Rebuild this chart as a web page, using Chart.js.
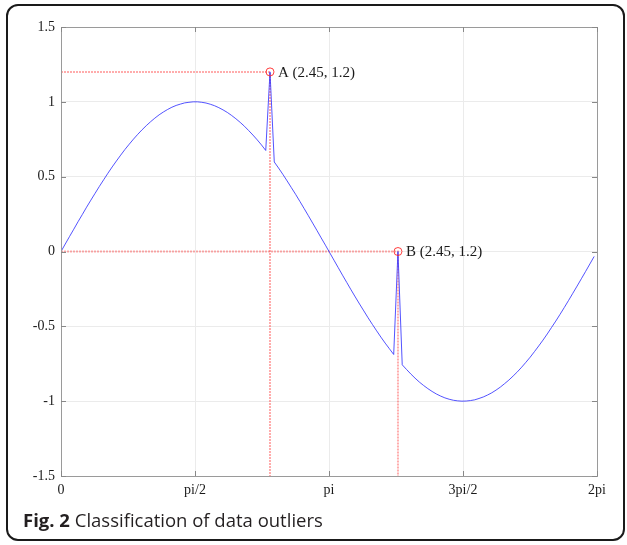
<!DOCTYPE html>
<html>
<head>
<meta charset="utf-8">
<script src="https://cdn.jsdelivr.net/npm/chart.js@4/dist/chart.umd.min.js"></script>
<style>
html,body{margin:0;padding:0;background:#fff;}
#wrap{position:relative;width:627px;height:545px;overflow:hidden;}
#frame{position:absolute;left:6px;top:4px;width:619px;height:537px;border:2px solid #1a1a1a;border-radius:12px;box-sizing:border-box;}
#c{position:absolute;left:0;top:0;}
#cap{position:absolute;left:23px;top:511px;font-family:'Open Sans',sans-serif;font-size:18.5px;line-height:18.5px;color:#231f20;white-space:nowrap;}
#cap b{font-weight:700;}
</style>
</head>
<body>
<div id="wrap">
<div id="frame"></div>
<canvas id="c" width="627" height="545"></canvas>
<div id="cap"><b>Fig. 2</b> Classification of data outliers</div>
</div>
<script>
// ---- data ----
const xs = [0,0.05,0.1,0.15,0.2,0.25,0.3,0.35,0.4,0.45,0.5,0.55,0.6,0.65,0.7,0.75,0.8,0.85,0.9,0.95,
1,1.05,1.1,1.15,1.2,1.25,1.3,1.35,1.4,1.45,1.5,1.55,1.6,1.65,1.7,1.75,1.8,1.85,1.9,1.95,
2,2.05,2.1,2.15,2.2,2.25,2.3,2.35,2.4,2.45,2.5,2.55,2.6,2.65,2.7,2.75,2.8,2.85,2.9,2.95,
3,3.05,3.1,3.15,3.2,3.25,3.3,3.35,3.4,3.45,3.5,3.55,3.6,3.65,3.7,3.75,3.8,3.85,3.9,3.95,
4,4.05,4.1,4.15,4.2,4.25,4.3,4.35,4.4,4.45,4.5,4.55,4.6,4.65,4.7,4.75,4.8,4.85,4.9,4.95,
5,5.05,5.1,5.15,5.2,5.25,5.3,5.35,5.4,5.45,5.5,5.55,5.6,5.65,5.7,5.75,5.8,5.85,5.9,5.95,
6,6.05,6.1,6.15,6.2,6.25];
const ys = [0,0.05,0.1,0.149,0.199,0.247,0.296,0.343,0.389,0.435,0.479,0.523,0.565,0.605,0.644,0.682,0.717,0.751,0.783,0.813,
0.841,0.867,0.891,0.913,0.932,0.949,0.964,0.976,0.985,0.993,0.997,1,1,0.997,0.992,0.984,0.974,0.961,0.946,0.929,
0.909,0.887,0.863,0.837,0.808,0.778,0.746,0.712,0.675,1.2,0.598,0.558,0.516,0.472,0.427,0.382,0.335,0.287,0.239,0.19,
0.141,0.091,0.042,-0.008,-0.058,-0.108,-0.158,-0.207,-0.256,-0.304,-0.351,-0.397,-0.443,-0.487,-0.53,-0.572,-0.612,-0.65,-0.688,0,
-0.757,-0.788,-0.818,-0.846,-0.872,-0.895,-0.916,-0.935,-0.952,-0.966,-0.978,-0.987,-0.994,-0.998,-1,-0.999,-0.996,-0.991,-0.982,-0.972,
-0.959,-0.944,-0.926,-0.906,-0.883,-0.859,-0.832,-0.804,-0.773,-0.74,-0.706,-0.669,-0.631,-0.592,-0.551,-0.508,-0.465,-0.42,-0.374,-0.327,
-0.279,-0.231,-0.182,-0.133,-0.083,-0.033];
const outlierX = [2.45, 3.95];
const outlierY = [1.2, 0];
const outlierLabels = ['A (2.45, 1.2)', 'B (2.45, 1.2)'];
const xTickValues = [0, Math.PI/2, Math.PI, 3*Math.PI/2, 2*Math.PI];
const xTickLabels = ['0', 'pi/2', 'pi', '3pi/2', '2pi'];
const yTickValues = [-1.5, -1, -0.5, 0, 0.5, 1, 1.5];
const yTickLabels = ['-1.5', '-1', '-0.5', '0', '0.5', '1', '1.5'];

// ---- datasets ----
const curve = xs.map((x, i) => ({x: x, y: ys[i]}));
const GUIDE = 'rgba(255,70,70,0.45)';
const guideSets = outlierX.map((ox, i) => ({
  data: [{x: xTickValues[0], y: outlierY[i]}, {x: ox, y: outlierY[i]}, {x: ox, y: yTickValues[0]}],
  showLine: true, borderColor: GUIDE, backgroundColor: GUIDE, borderWidth: 2, borderDash: [2, 1],
  pointRadius: 0, order: 2
}));
const markerSet = {
  data: outlierX.map((ox, i) => ({x: ox, y: outlierY[i]})),
  showLine: false, pointStyle: 'circle', pointRadius: 4, pointBorderWidth: 1,
  borderColor: 'rgba(255,30,30,0.85)', backgroundColor: 'rgba(0,0,0,0)',
  pointBorderColor: 'rgba(255,30,30,0.85)', pointBackgroundColor: 'rgba(0,0,0,0)', order: 0
};
const curveSet = {
  data: curve, showLine: true, borderColor: 'rgba(40,40,255,0.8)', backgroundColor: 'rgba(40,40,255,0.8)', borderWidth: 1,
  pointRadius: 0, tension: 0, order: 1
};

const FONT = 'Liberation Serif';
const boxPlugin = {
  id: 'box',
  afterDatasetsDraw(chart) {
    const ctx = chart.ctx, a = chart.chartArea;
    const sx = chart.scales.x, sy = chart.scales.y;
    ctx.save();
    // annotation labels
    ctx.font = '15px "' + FONT + '"';
    ctx.fillStyle = '#1a1a1a';
    ctx.textBaseline = 'middle';
    ctx.textAlign = 'left';
    outlierX.forEach((ox, i) => {
      ctx.fillText(outlierLabels[i], sx.getPixelForValue(ox) + 8, sy.getPixelForValue(outlierY[i]) + 1);
    });
    // axes box
    ctx.strokeStyle = '#9a9a9a';
    ctx.lineWidth = 1;
    ctx.setLineDash([]);
    ctx.strokeRect(Math.round(a.left) + 0.5, Math.round(a.top) + 0.5, Math.round(a.right - a.left), Math.round(a.bottom - a.top));
    // inward ticks
    ctx.strokeStyle = '#888';
    ctx.beginPath();
    yTickValues.forEach(v => {
      const p = Math.round(sy.getPixelForValue(v)) + 0.5;
      ctx.moveTo(a.left, p); ctx.lineTo(a.left + 5, p);
      ctx.moveTo(a.right, p); ctx.lineTo(a.right - 5, p);
    });
    xTickValues.forEach(v => {
      const p = Math.round(sx.getPixelForValue(v)) + 0.5;
      ctx.moveTo(p, a.bottom); ctx.lineTo(p, a.bottom - 5);
      ctx.moveTo(p, a.top); ctx.lineTo(p, a.top + 5);
    });
    ctx.stroke();
    ctx.restore();
  }
};

new Chart(document.getElementById('c'), {
  type: 'scatter',
  data: { datasets: [markerSet, curveSet, ...guideSets] },
  options: {
    responsive: false, animation: false, devicePixelRatio: 1,
    layout: { padding: { top: 27, right: 30, left: 0, bottom: 0 } },
    plugins: { legend: { display: false }, tooltip: { enabled: false } },
    scales: {
      x: {
        type: 'linear', min: xTickValues[0], max: xTickValues[xTickValues.length - 1],
        afterBuildTicks: s => { s.ticks = xTickValues.map(v => ({value: v})); },
        afterFit: s => { s.height = 69; },
        grid: { color: '#ebebeb', lineWidth: 1, drawTicks: false },
        border: { display: false },
        ticks: { autoSkip: false, maxRotation: 0, padding: 6, color: '#1a1a1a',
          font: { family: FONT, size: 14 }, callback: (v, i) => xTickLabels[i] }
      },
      y: {
        type: 'linear', min: yTickValues[0], max: yTickValues[yTickValues.length - 1],
        afterBuildTicks: s => { s.ticks = yTickValues.map(v => ({value: v})); },
        afterFit: s => { s.width = 61; },
        grid: { color: '#ebebeb', lineWidth: 1, drawTicks: false },
        border: { display: false },
        ticks: { autoSkip: false, padding: 6, color: '#1a1a1a',
          font: { family: FONT, size: 14 }, callback: (v, i) => yTickLabels[i] }
      }
    }
  },
  plugins: [boxPlugin]
});
</script>
</body>
</html>
